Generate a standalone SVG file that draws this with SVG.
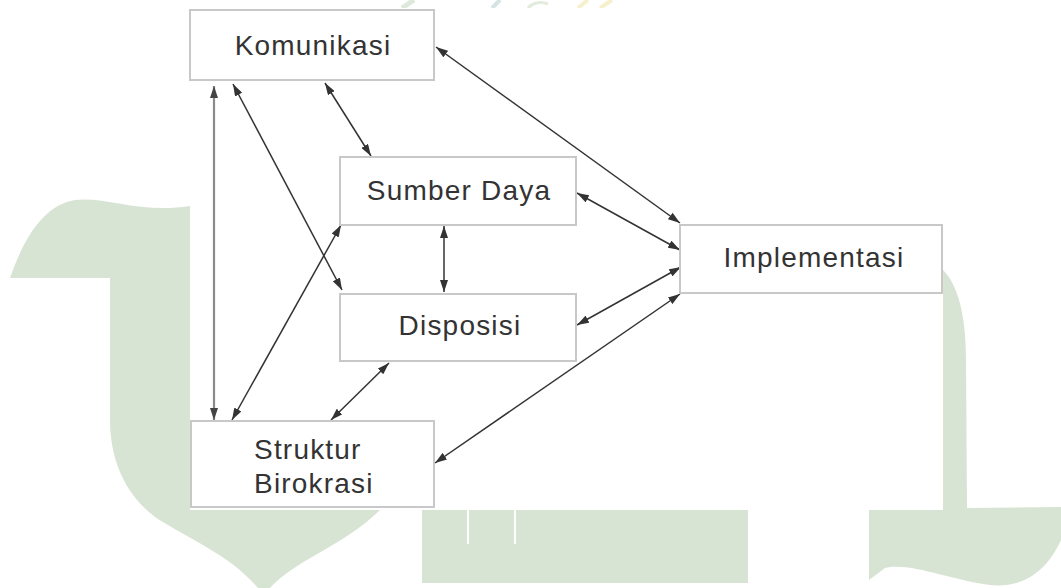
<svg xmlns="http://www.w3.org/2000/svg" width="1061" height="588" viewBox="0 0 1061 588">
  <style>
    .wm { fill: #d8e4d3; stroke: none; }
    .box { fill: #ffffff; stroke: #c8c8c8; stroke-width: 2; }
    .lbl { font-family: "Liberation Sans", Arial, sans-serif; font-size: 28px; letter-spacing: 1.2px; fill: #333333; }
    .mid { text-anchor: middle; }
    .conn { stroke: #333333; stroke-width: 1.5; fill: none; marker-start: url(#ah); marker-end: url(#ah); }
    .conn-grey { stroke: #8a8a8a; stroke-width: 2.2; fill: none; marker-start: url(#ahg); marker-end: url(#ahg); }
  </style>
  <defs>
    <marker id="ah" markerUnits="userSpaceOnUse" markerWidth="12" markerHeight="8" refX="12" refY="4" orient="auto-start-reverse">
      <path d="M0,0 L12,4 L0,8 Z" fill="#333333"/>
    </marker>
    <marker id="ahg" markerUnits="userSpaceOnUse" markerWidth="12" markerHeight="8" refX="12" refY="4" orient="auto-start-reverse">
      <path d="M0,0 L12,4 L0,8 Z" fill="#444444"/>
    </marker>
  </defs>

  <rect x="0" y="0" width="1061" height="588" fill="#ffffff"/>

  <g id="watermark">
    <path class="wm" d="M10,278 C 25,235 45,205 75,200 C 105,196 140,214 190,206 L 190,510 L 380,510 C 345,545 295,560 270,588 L 258,588 C 230,555 190,540 155,517 C 122,492 110,455 110,420 L 110,278 Z"/>
    <rect class="wm" x="422" y="510" width="326" height="73"/>
    <path d="M468,510 L468,544 M515,510 L515,544" stroke="#ffffff" stroke-width="2"/>
    <path class="wm" d="M943,270 C 958,285 966,315 966,360 L 967,508 L 1061,507 L 1061,540 C 1045,575 1020,588 990,585 C 950,580 910,562 885,568 L 869,580 L 869,510 L 943,510 Z"/>
    <path d="M402,8 L414,0" stroke="#dfe9db" stroke-width="5" fill="none"/>
    <path d="M492,8 L500,0" stroke="#d6e3e3" stroke-width="4" fill="none"/>
    <path d="M528,8 C 532,3 540,1 548,4" stroke="#e3ecdc" stroke-width="3" fill="none"/>
    <path d="M578,8 L588,0 M600,8 L612,0" stroke="#f6f0cc" stroke-width="4" fill="none"/>
    <rect x="190" y="8" width="753" height="502" fill="#ffffff"/>
  </g>

  <g id="connectors">
    <line class="conn-grey" x1="214" y1="86" x2="214" y2="420"/>
    <line class="conn" x1="233" y1="84" x2="342" y2="290"/>
    <line class="conn" x1="325" y1="83" x2="371" y2="156"/>
    <line class="conn" x1="436" y1="47" x2="680" y2="223"/>
    <line class="conn" x1="577" y1="193" x2="680" y2="250"/>
    <line class="conn" x1="444" y1="226" x2="444" y2="292"/>
    <line class="conn" x1="577" y1="325" x2="681" y2="267"/>
    <line class="conn" x1="435" y1="463" x2="680" y2="294"/>
    <line class="conn" x1="232" y1="420" x2="341" y2="225"/>
    <line class="conn" x1="389" y1="363" x2="331" y2="420"/>
  </g>

  <g id="komunikasi">
    <rect class="box" x="190" y="10" width="244" height="70"/>
    <text class="lbl mid" x="313" y="55">Komunikasi</text>
  </g>
  <g id="sumber-daya">
    <rect class="box" x="340" y="157" width="236" height="68"/>
    <text class="lbl mid" x="459" y="200">Sumber Daya</text>
  </g>
  <g id="disposisi">
    <rect class="box" x="340" y="294" width="236" height="67"/>
    <text class="lbl mid" x="460" y="335">Disposisi</text>
  </g>
  <g id="implementasi">
    <rect class="box" x="680" y="225" width="262" height="68"/>
    <text class="lbl mid" x="814" y="267">Implementasi</text>
  </g>
  <g id="struktur-birokrasi">
    <rect class="box" x="191" y="421" width="243" height="86"/>
    <text class="lbl" x="254" y="459">Struktur</text>
    <text class="lbl" x="254" y="493">Birokrasi</text>
  </g>
</svg>
